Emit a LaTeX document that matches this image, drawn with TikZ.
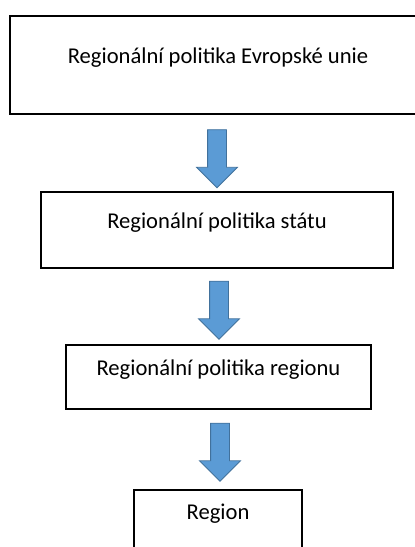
\documentclass[tikz,border=0pt]{standalone}
\usepackage{fontspec}
\setmainfont{Carlito}
\usepackage{tikz}
\usetikzlibrary{shapes.arrows}
\definecolor{arrowblue}{HTML}{5B9BD5}
\definecolor{arrowline}{HTML}{41719C}

\begin{document}
\begin{tikzpicture}[x=1pt, y=-1pt, box/.style={rectangle, draw, line width=1.8pt, inner sep=0pt, font=\fontsize{22.6}{27}\selectfont}, down/.style={single arrow, draw=arrowline, fill=arrowblue, line width=0.8pt, rotate=-90, inner xsep=0pt, inner ysep=9pt, minimum height=58pt, single arrow head extend=11pt, single arrow tip angle=90}]
			\useasboundingbox (0,0) rectangle (415,547);
			\clip (0,0) rectangle (415,547);
			% Levels
			\node[box, anchor=north, minimum width=416pt, text height=48pt, text depth=50pt] (eu) at (218,15) {Regionální politika Evropské unie};
			\node[box, anchor=north, minimum width=352pt, text height=37pt, text depth=39pt] (stat) at (217,191) {Regionální politika státu};
			\node[box, anchor=north, minimum width=305pt, text height=31pt, text depth=33pt] (reg) at (218.5,344) {Regionální politika regionu};
			\node[box, anchor=north, minimum width=168pt, text height=30pt, text depth=60pt] (region) at (218,489) {Region};
			% Arrows between levels
			\node[down] (a1) at (217,154) {};
			\node[down] (a2) at (219,305.5) {};
			\node[down] (a3) at (220,447.5) {};
		\end{tikzpicture}
\end{document}
